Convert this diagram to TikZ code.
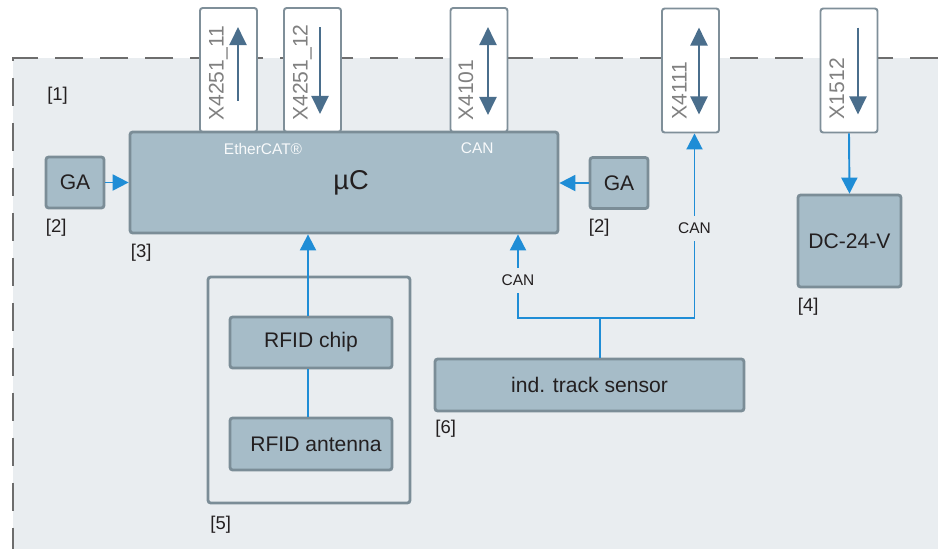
\documentclass[tikz,border=0pt]{standalone}
\usepackage{fontspec}
\setmainfont{Liberation Sans}
\usepackage{tikz}
\usetikzlibrary{arrows.meta,positioning,calc}
\definecolor{areabg}{HTML}{E9EDF0}
\definecolor{boxfill}{HTML}{A6BCC8}
\definecolor{boxline}{HTML}{7B8D97}
\definecolor{plugline}{HTML}{7F8F99}
\definecolor{plugtext}{HTML}{808080}
\definecolor{sigblue}{HTML}{1F8DD6}
\definecolor{darkarr}{HTML}{4A6E8C}
\definecolor{txt}{HTML}{231F20}
\tikzset{
      blk/.style = {draw=boxline, line width=1.6pt, fill=boxfill,
                    rounded corners=1.5pt, inner sep=0pt, text=txt,
                    font=\fontsize{12}{14}\selectfont, align=center},
     plug/.style = {draw=plugline, line width=1.1pt, fill=white,
                    rounded corners=1.5pt, inner sep=0pt,
                    minimum width=1.14cm, minimum height=2.48cm},
  plugtxt/.style = {rotate=90, anchor=base west, inner sep=0pt,
                    text=plugtext, font=\fontsize{12}{14}\selectfont},
      tag/.style = {inner sep=0pt, text=txt, font=\fontsize{10.5}{12}\selectfont},
     port/.style = {inner sep=0pt, text=white!92!boxfill, font=\fontsize{8.8}{10}\selectfont},
      can/.style = {fill=areabg, inner xsep=1pt, inner ysep=4pt, text=txt,
                    font=\fontsize{8.8}{10}\selectfont},
      sig/.style = {draw=sigblue, line width=1.1pt, -{Triangle[width=0.32cm,length=0.32cm]}},
     wire/.style = {draw=sigblue, line width=1.1pt},
      dir/.style = {draw=darkarr, line width=1.2pt},
}
\begin{document}
\begin{tikzpicture}[x=0.02cm,y=-0.02cm,
    dtip/.tip={Triangle[width=0.34cm,length=0.36cm]}]
\useasboundingbox (0,0) rectangle (938,549);
% device area
\fill[areabg] (13,58) rectangle (938,549);
\draw[plugtext!85!black, line width=0.7pt, dash pattern=on 0.56cm off 0.34cm]
  (938,58) -- (13,58) -- (13,549);
\node[tag, anchor=north west] (t1) at (47,87) {[1]};

% plugs
\node[plug] (x11) at (228.5,70) {};
\node[plug] (x12) at (312.5,70) {};
\node[plug] (x4101) at (479,70) {};
\node[plug] (x4111) at (690.5,70.5) {};
\node[plug] (x1512) at (849,70.5) {};
\node[plugtxt] at ([xshift=-0.1cm,yshift=0.24cm]x11.south) {X4251\_11};
\node[plugtxt] at ([xshift=-0.1cm,yshift=0.24cm]x12.south) {X4251\_12};
\node[plugtxt] at ([xshift=-0.12cm,yshift=0.24cm]x4101.south) {X4101};
\node[plugtxt] at ([xshift=-0.08cm,yshift=0.28cm]x4111.south) {X4111};
\node[plugtxt] at ([xshift=-0.1cm,yshift=0.28cm]x1512.south) {X1512};
\draw[dir,-dtip] ([xshift=0.19cm,yshift=0.64cm]x11.south) -- ([xshift=0.19cm,yshift=-0.4cm]x11.north);
\draw[dir,-dtip] ([xshift=0.15cm,yshift=-0.4cm]x12.north) -- ([xshift=0.15cm,yshift=0.38cm]x12.south);
\draw[dir,dtip-dtip] ([xshift=0.18cm,yshift=-0.4cm]x4101.north) -- ([xshift=0.18cm,yshift=0.36cm]x4101.south);
\draw[dir,dtip-dtip] ([xshift=0.17cm,yshift=-0.4cm]x4111.north) -- ([xshift=0.17cm,yshift=0.38cm]x4111.south);
\draw[dir,-dtip] ([xshift=0.18cm,yshift=-0.4cm]x1512.north) -- ([xshift=0.18cm,yshift=0.38cm]x1512.south);

% controller
\node[blk, minimum width=8.56cm, minimum height=2.02cm,
      font=\fontsize{15.5}{18}\selectfont] (mc) at (344,182.5) {\hspace{0.28cm}µC};
\node[port, anchor=north west, below right=0.24cm and 1.9cm of mc.north west] (eth) {EtherCAT®};
\node[port, anchor=north west, below right=0.24cm and 6.64cm of mc.north west] (canp) {CAN};
\node[tag, below right=0.18cm and 0.04cm of mc.south west] (t3) {[3]};

% GA units
\node[blk, minimum width=1.16cm, minimum height=1.02cm] (gal) at (75,182.5) {GA};
\node[blk, minimum width=1.16cm, minimum height=1.02cm] (gar) at (619,183) {GA};
\node[tag, below right=0.18cm and 0.02cm of gal.south west] (t2a) {[2]};
\node[tag, below right=0.18cm and 0cm of gar.south west] (t2b) {[2]};
\draw[sig] (gal.east) -- (mc.west |- gal.east);
\draw[sig] (gar.west) -- (mc.east |- gar.west);

% power supply
\node[blk, minimum width=2.06cm, minimum height=1.84cm] (dc) at (849.5,241) {DC-24-V};
\node[tag, below right=0.18cm and 0.02cm of dc.south west] (t4) {[4]};
\draw[sig] (x1512.south) -- (dc.north);

% RFID
\node[draw=boxline, line width=1.6pt, rounded corners=1.5pt,
      minimum width=4.04cm, minimum height=4.52cm] (rfid) at (309,390) {};
\node[blk, minimum width=3.24cm, minimum height=1.02cm] (rchip) at (311,342.5) {RFID chip};
\node[blk, minimum width=3.24cm, minimum height=1.04cm] (rant) at (311,444) {\hspace{0.2cm}RFID antenna};
\node[tag, below right=0.22cm and 0.07cm of rfid.south west] (t5) {[5]};
\coordinate (rx) at (308,0);
\draw[wire] (rant.north -| rx) -- (rchip.south -| rx);
\draw[sig] (rchip.north -| rx) -- (mc.south -| rx);

% track sensor
\node[blk, minimum width=6.18cm, minimum height=1.04cm] (sens) at (589.5,385) {ind. track sensor};
\node[tag, below right=0.14cm and 0.03cm of sens.south west] (t6) {[6]};
\coordinate (bus) at (600,318);
\coordinate (canl) at (518,318);
\coordinate (canr) at (694.5,318);
\draw[wire] (sens.north -| bus) -- (bus);
\draw[sig] (bus) -- (canl) -- (canl |- mc.south) node[can, pos=0.45] (canlbl) {CAN};
\draw[sig] (bus) -- (canr) -- (canr |- x4111.south) node[can, pos=0.486] (canrbl) {CAN};
\end{tikzpicture}
\end{document}
